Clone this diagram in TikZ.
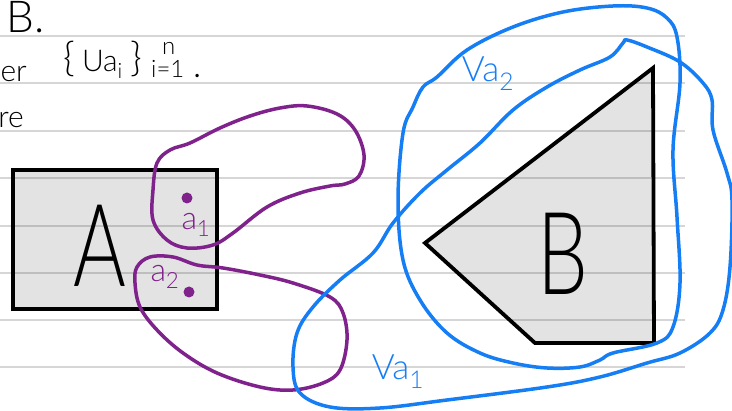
\documentclass[tikz,border=0pt]{standalone}
\usepackage{fontspec}
\setmainfont{Lato}
\newfontfamily\handfont{Lato Light}
\newfontfamily\narrowfont[FakeStretch=0.7]{Lato Light}
\definecolor{penpurple}{RGB}{128,34,140}
\definecolor{penblue}{RGB}{22,126,245}
\definecolor{ruleline}{RGB}{214,214,214}
\newcommand{\bigbrace}[1]{{\fontsize{40}{40}\selectfont#1}}
\begin{document}
\begin{tikzpicture}[
			x=1pt, y=-1pt,
			every node/.style={inner sep=0pt, align=center},
			region/.style={draw=black, line width=3.8pt, fill=black, fill opacity=0.11},
			purpleloop/.style={draw=penpurple, line width=3.5pt, line join=round},
			blueloop/.style={draw=penblue, line width=3.5pt, line join=round},
			note/.style={font=\handfont\fontsize{30}{30}\selectfont},
			script/.style={font=\handfont\fontsize{24}{24}\selectfont},
			bigletter/.style={font=\narrowfont\fontsize{115}{115}\selectfont},
			ptlabel/.style={text=penpurple, font=\handfont\fontsize{32}{32}\selectfont},
			nbhdlabel/.style={text=penblue, font=\handfont\fontsize{35}{35}\selectfont},
			pt/.style={circle, fill=penpurple, minimum size=11pt}
		]
			\useasboundingbox (0,0) rectangle (732,411);

			\foreach \y in {36,83,131,178,226,273,320,367}
				\draw[ruleline, line width=1.8pt] (0,\y) -- (685,\y);

			\node[anchor=base west, font=\handfont\fontsize{44}{44}\selectfont] (head) at (6,33) {B.};
			\node[note, anchor=base east] (er) at (27,82) {er};
			\node[note, anchor=base east] (re) at (24,128) {re};
			\node[note, anchor=base west] (cover) at (63,72) {\bigbrace{\{}\hspace{7pt}Ua\textsubscript{i}\hspace{8pt}\bigbrace{\}}};
			\node[script, anchor=base west] (upper) at (162,55) {n};
			\node[script, anchor=base west] (lower) at (151,78) {i=1\hspace{10pt}{\bfseries.}};

			\node[region, minimum width=204pt, minimum height=139pt] (A) at (115,239.5) {};
			\draw[region] (653,68) -- (425,243) -- (535,343) -- (654,343) -- cycle;
			\node[bigletter] (textA) at (100,246) {A};
			\node[bigletter] (textB) at (563,254) {B};

			\node[pt] (a1) at (187,198) {};
			\node[pt] (a2) at (189,292) {};
			\node[ptlabel] (la1) at (196,225) {a\textsubscript{1}};
			\node[ptlabel] (la2) at (165,277) {a\textsubscript{2}};

			\draw[purpleloop] plot[smooth cycle, tension=0.6] coordinates {(190,143) (170,150) (157,163) (153,190) (153,220) (167,240) (187,248) (213,245) (233,233) (267,207) (300,193) (330,186) (345,184) (359,176) (364,155) (355,130) (337,114) (307,106) (280,108) (250,116) (220,128)};
			\draw[purpleloop] plot[smooth cycle, tension=0.6] coordinates {(197,265) (173,257) (150,257) (137,267) (135,283) (140,307) (157,330) (183,353) (217,373) (260,387) (293,390) (323,383) (340,370) (347,340) (343,313) (330,297) (293,283) (260,275) (223,268)};

			\draw[blueloop] plot[smooth cycle, tension=0.6] coordinates {(423,87) (437,77) (467,50) (513,27) (563,12) (613,6) (647,8) (667,18) (677,37) (680,83) (673,150) (677,217) (680,283) (673,327) (657,343) (613,353) (600,360) (580,367) (547,368) (513,363) (480,353) (447,333) (420,300) (403,260) (398,200) (403,133) (413,107)};
			\draw[blueloop] plot[smooth cycle, tension=0.6] coordinates {(627,40) (647,47) (680,62) (703,83) (712,100) (713,130) (727,173) (732,200) (730,267) (723,310) (710,333) (680,353) (647,363) (600,377) (547,387) (447,400) (380,408) (330,407) (300,393) (293,367) (297,333) (313,307) (340,280) (373,253) (393,223) (420,193) (447,170) (480,143) (513,110) (547,87) (580,70) (610,57) (623,43)};

			\node[nbhdlabel] (va2) at (488,74) {Va\textsubscript{2}};
			\node[nbhdlabel] (va1) at (398,372) {Va\textsubscript{1}};
		\end{tikzpicture}
\end{document}
